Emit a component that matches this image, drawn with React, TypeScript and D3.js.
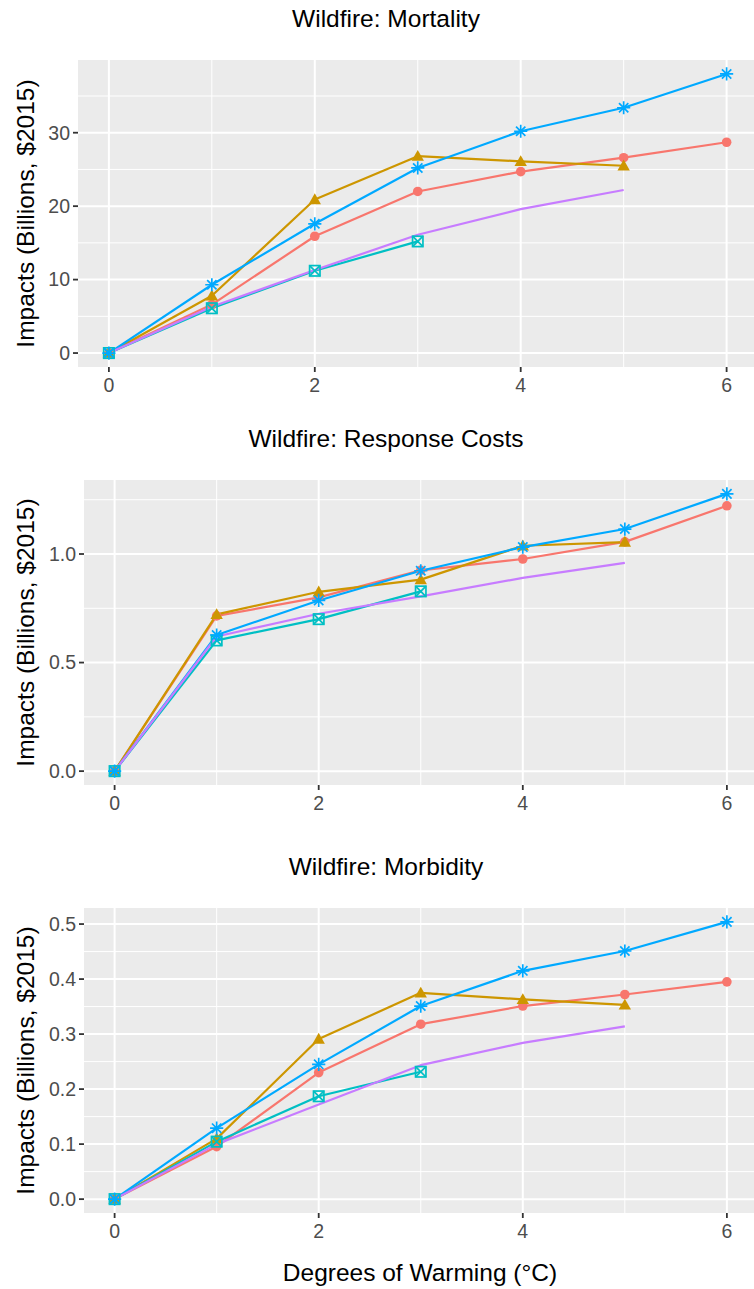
import React from "react";
import * as d3 from "d3";

// ---------- data ----------
const warming = [0, 1, 2, 3, 4, 5, 6];

const models = ["CanESM2", "CCSM4", "GISS-E2-R", "HadGEM2-ES", "MIROC5"];
const modelColors = ["#F8766D", "#CD9600", "#00BFC4", "#00A9FF", "#C77CFF"];
const modelShapes = ["circle", "triangle", "squarecross", "asterisk", "none"];

// Wildfire: Mortality
const mortCanESM2 = [0, 6.6, 15.9, 22.0, 24.7, 26.6, 28.7];
const mortCCSM4 = [0, 7.8, 20.9, 26.8, 26.1, 25.5];
const mortGISS = [0, 6.1, 11.2, 15.2];
const mortHadGEM = [0, 9.3, 17.6, 25.2, 30.2, 33.4, 38.0];
const mortMIROC = [0, 6.3, 11.3, 16.1, 19.6, 22.2];

// Wildfire: Response Costs
const respCanESM2 = [0, 0.715, 0.8, 0.925, 0.977, 1.056, 1.222];
const respCCSM4 = [0, 0.722, 0.826, 0.882, 1.038, 1.055];
const respGISS = [0, 0.602, 0.7, 0.828];
const respHadGEM = [0, 0.627, 0.786, 0.923, 1.032, 1.115, 1.277];
const respMIROC = [0, 0.62, 0.725, 0.805, 0.89, 0.959];

// Wildfire: Morbidity
const morbCanESM2 = [0, 0.0955, 0.23, 0.318, 0.351, 0.372, 0.395];
const morbCCSM4 = [0, 0.11, 0.291, 0.375, 0.363, 0.353];
const morbGISS = [0, 0.1045, 0.187, 0.2315];
const morbHadGEM = [0, 0.129, 0.245, 0.351, 0.415, 0.451, 0.504];
const morbMIROC = [0, 0.1, 0.172, 0.2435, 0.284, 0.314];

const xTicks = [0, 2, 4, 6];
const xMinor = [1, 3, 5];
const mortTicks = [0, 10, 20, 30];
const mortMinor = [5, 15, 25, 35];
const respTicks = [0, 0.5, 1.0];
const respMinor = [0.25, 0.75, 1.25];
const morbTicks = [0, 0.1, 0.2, 0.3, 0.4, 0.5];
const morbMinor = [0.05, 0.15, 0.25, 0.35, 0.45];

const titles = ["Wildfire: Mortality", "Wildfire: Response Costs", "Wildfire: Morbidity"];
const yTitle = "Impacts (Billions, $2015)";
const xTitle = "Degrees of Warming (°C)";

// ---------- layout ----------
const W = 754;
const H = 1289;
const FONT = "'Liberation Sans', Arial, Helvetica, sans-serif";
const PANEL_RIGHT = 757.5;

type PanelDef = {
  title: string;
  series: number[][];
  ticks: number[];
  minor: number[];
  fmt: (v: number) => string;
  left: number;
  top: number;
  bottom: number;
};

const panels: PanelDef[] = [
  {
    title: titles[0],
    series: [mortCanESM2, mortCCSM4, mortGISS, mortHadGEM, mortMIROC],
    ticks: mortTicks,
    minor: mortMinor,
    fmt: d3.format("d"),
    left: 78,
    top: 60,
    bottom: 367,
  },
  {
    title: titles[1],
    series: [respCanESM2, respCCSM4, respGISS, respHadGEM, respMIROC],
    ticks: respTicks,
    minor: respMinor,
    fmt: d3.format(".1f"),
    left: 84,
    top: 480,
    bottom: 785,
  },
  {
    title: titles[2],
    series: [morbCanESM2, morbCCSM4, morbGISS, morbHadGEM, morbMIROC],
    ticks: morbTicks,
    minor: morbMinor,
    fmt: d3.format(".1f"),
    left: 84,
    top: 908,
    bottom: 1213,
  },
];

function expand(lo: number, hi: number, f = 0.05): [number, number] {
  const d = (hi - lo) * f;
  return [lo - d, hi + d];
}

function Marker({ shape, x, y, color }: { shape: string; x: number; y: number; color: string }) {
  if (shape === "circle") {
    return <circle cx={x} cy={y} r={4.8} fill={color} />;
  }
  if (shape === "triangle") {
    const s = 6.2;
    const p = `M${x},${y - s * 1.0} L${x + s},${y + s * 0.75} L${x - s},${y + s * 0.75} Z`;
    return <path d={p} fill={color} />;
  }
  if (shape === "squarecross") {
    const s = 5.2;
    return (
      <g stroke={color} strokeWidth={1.7} fill="none">
        <rect x={x - s} y={y - s} width={2 * s} height={2 * s} />
        <path d={`M${x - s},${y - s} L${x + s},${y + s} M${x + s},${y - s} L${x - s},${y + s}`} />
      </g>
    );
  }
  if (shape === "asterisk") {
    const s = 6.6;
    const d2 = s * 0.7071;
    return (
      <path
        d={`M${x},${y - s} L${x},${y + s} M${x - s},${y} L${x + s},${y} M${x - d2},${y - d2} L${x + d2},${y + d2} M${x + d2},${y - d2} L${x - d2},${y + d2}`}
        stroke={color}
        strokeWidth={1.7}
        fill="none"
      />
    );
  }
  return null;
}

function Panel({ p }: { p: PanelDef }) {
  const xDom = expand(d3.min(warming)!, d3.max(warming)!);
  const xs = d3.scaleLinear().domain(xDom).range([p.left, PANEL_RIGHT]);
  const allY = p.series.flat();
  const yDom = expand(d3.min(allY)!, d3.max(allY)!);
  const ys = d3.scaleLinear().domain(yDom).range([p.bottom, p.top]);
  const right = xs(xDom[1]);
  const line = d3
    .line<[number, number]>()
    .x((d) => xs(d[0]))
    .y((d) => ys(d[1]));
  const tickFs = 19.5;
  return (
    <g>
      <rect x={p.left} y={p.top} width={right - p.left} height={p.bottom - p.top} fill="#EBEBEB" />
      {p.minor.filter((v) => ys(v) > p.top).map((v) => (
        <line key={"ym" + v} x1={p.left} x2={right} y1={ys(v)} y2={ys(v)} stroke="#fff" strokeWidth={1} />
      ))}
      {xMinor.map((v) => (
        <line key={"xm" + v} x1={xs(v)} x2={xs(v)} y1={p.top} y2={p.bottom} stroke="#fff" strokeWidth={1} />
      ))}
      {p.ticks.map((v) => (
        <line key={"yM" + v} x1={p.left} x2={right} y1={ys(v)} y2={ys(v)} stroke="#fff" strokeWidth={2} />
      ))}
      {xTicks.map((v) => (
        <line key={"xM" + v} x1={xs(v)} x2={xs(v)} y1={p.top} y2={p.bottom} stroke="#fff" strokeWidth={2} />
      ))}
      {p.series.map((s, i) => (
        <path
          key={"l" + i}
          d={line(s.map((v, j) => [warming[j], v] as [number, number])) || ""}
          stroke={modelColors[i]}
          strokeWidth={2.2}
          fill="none"
          strokeLinejoin="round"
        />
      ))}
      {p.series.map((s, i) =>
        s.map((v, j) => (
          <Marker key={"m" + i + "-" + j} shape={modelShapes[i]} x={xs(warming[j])} y={ys(v)} color={modelColors[i]} />
        ))
      )}
      {p.ticks.map((v) => (
        <g key={"yt" + v}>
          <line x1={p.left - 5} x2={p.left} y1={ys(v)} y2={ys(v)} stroke="#333" strokeWidth={1.8} />
          <text
            x={p.left - 8}
            y={ys(v)}
            dy="0.35em"
            textAnchor="end"
            fontSize={tickFs}
            fill="#4D4D4D"
            fontFamily={FONT}
          >
            {p.fmt(v)}
          </text>
        </g>
      ))}
      {xTicks.map((v) => (
        <g key={"xt" + v}>
          <line x1={xs(v)} x2={xs(v)} y1={p.bottom} y2={p.bottom + 5} stroke="#333" strokeWidth={1.8} />
          <text x={xs(v)} y={p.bottom + 25} textAnchor="middle" fontSize={tickFs} fill="#4D4D4D" fontFamily={FONT}>
            {d3.format("d")(v)}
          </text>
        </g>
      ))}
      <text x={386} y={p.top - 33} textAnchor="middle" fontSize={24.5} fill="#000" fontFamily={FONT}>
        {p.title}
      </text>
      <text
        transform={`translate(34,${(p.top + p.bottom) / 2}) rotate(-90)`}
        textAnchor="middle"
        fontSize={24.5}
        fill="#000"
        fontFamily={FONT}
      >
        {yTitle}
      </text>
    </g>
  );
}

export default function App() {
  return (
    <svg
      width={W}
      height={H}
      viewBox={`0 0 ${W} ${H}`}
      style={{ position: "absolute", left: 0, top: 0, background: "#fff" }}
    >
      <rect x={0} y={0} width={W} height={H} fill="#fff" />
      {panels.map((p, i) => (
        <Panel key={i} p={p} />
      ))}
      <text x={420} y={1281} textAnchor="middle" fontSize={24.5} fill="#000" fontFamily={FONT}>
        {xTitle}
      </text>
    </svg>
  );
}
